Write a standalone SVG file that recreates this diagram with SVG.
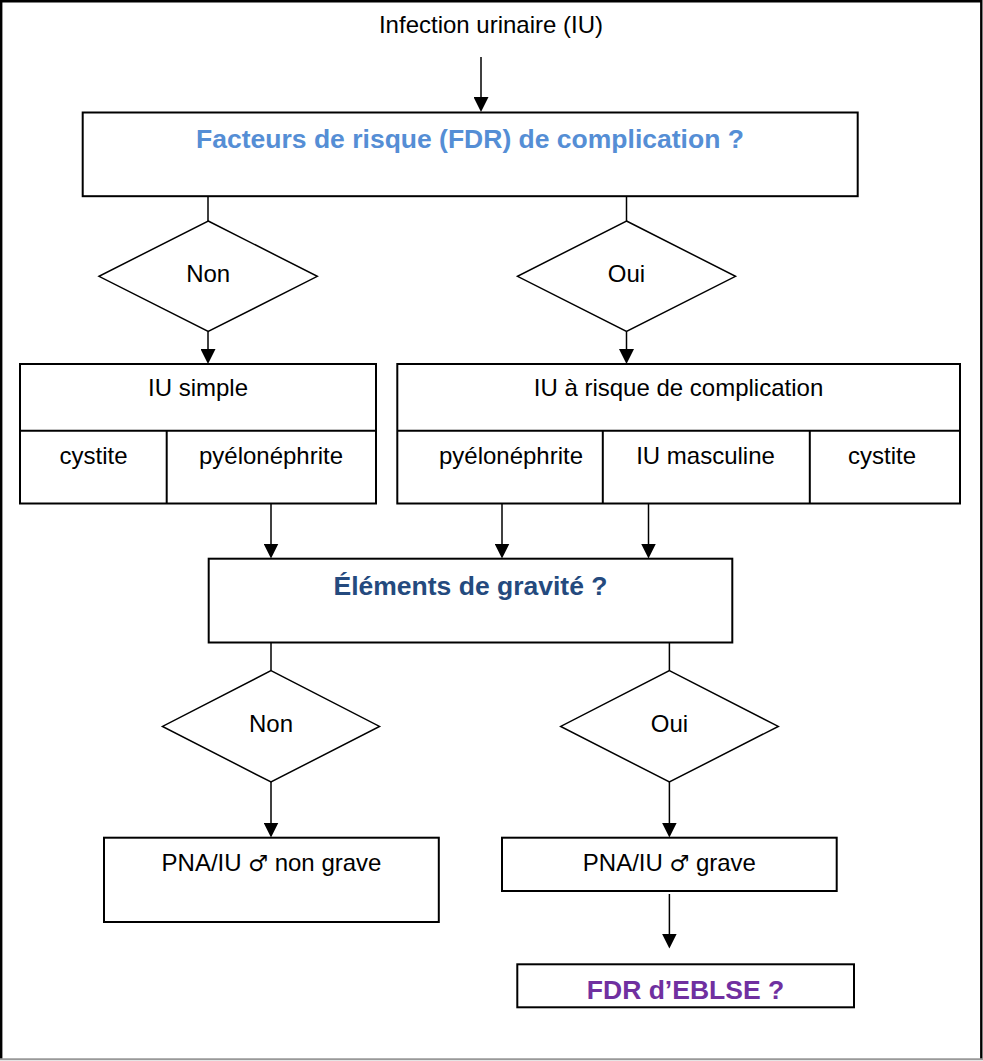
<svg xmlns="http://www.w3.org/2000/svg" width="983" height="1061" viewBox="0 0 983 1061">
<style>
.box{fill:#fff;stroke:#000;stroke-width:2}
.dia{fill:#fff;stroke:#000;stroke-width:1.5}
.ln{fill:none;stroke:#000;stroke-width:1.5}
.t{font-family:"Liberation Sans",Arial,sans-serif;font-size:24px;fill:#000;text-anchor:middle}
.b{font-family:"Liberation Sans",Arial,sans-serif;font-size:26.5px;font-weight:bold;text-anchor:middle}
.sym{font-family:"DejaVu Sans",sans-serif;font-size:22px}
</style>
<defs>
<marker id="arr" viewBox="0 0 15 15" refX="12" refY="7.5" markerWidth="15" markerHeight="15" markerUnits="userSpaceOnUse" orient="auto">
<path d="M0,0 L15,7.5 L0,15 z" fill="#000"/>
</marker>
</defs>
<rect width="983" height="1061" fill="#fff"/>
<g id="frame">
<path d="M1.2,1059 L1.2,1.2 L981.3,1.2 L981.3,1059" fill="none" stroke="#000" stroke-width="2.4"/>
<line x1="0" y1="1059.3" x2="983" y2="1059.3" stroke="#999" stroke-width="2"/>
</g>
<g id="connectors">
<line class="ln" x1="481" y1="57" x2="481" y2="109" marker-end="url(#arr)"/>
<line class="ln" x1="208" y1="196" x2="208" y2="221"/>
<line class="ln" x1="626.5" y1="196" x2="626.5" y2="221"/>
<line class="ln" x1="208" y1="331.5" x2="208" y2="361" marker-end="url(#arr)"/>
<line class="ln" x1="626.5" y1="331.5" x2="626.5" y2="361" marker-end="url(#arr)"/>
<line class="ln" x1="271" y1="503.5" x2="271" y2="555.5" marker-end="url(#arr)"/>
<line class="ln" x1="502" y1="503.5" x2="502" y2="555.5" marker-end="url(#arr)"/>
<line class="ln" x1="648.5" y1="503.5" x2="648.5" y2="555.5" marker-end="url(#arr)"/>
<line class="ln" x1="271" y1="642.5" x2="271" y2="670.7"/>
<line class="ln" x1="669.4" y1="642.5" x2="669.4" y2="670.7"/>
<line class="ln" x1="271" y1="782" x2="271" y2="834.5" marker-end="url(#arr)"/>
<line class="ln" x1="669.4" y1="782" x2="669.4" y2="834.5" marker-end="url(#arr)"/>
<line class="ln" x1="669.4" y1="894" x2="669.4" y2="945.5" marker-end="url(#arr)"/>
</g>
<g id="title">
<text class="t" x="491" y="33">Infection urinaire (IU)</text>
</g>
<g id="fdr-complication">
<rect class="box" x="82.7" y="112.5" width="775" height="83.7"/>
<text class="b" x="470" y="147.5" fill="#558ED5">Facteurs de risque (FDR) de complication ?</text>
</g>
<g id="dia-non-1">
<polygon class="dia" points="208.2,221 317.3,276.3 208.2,331.5 99,276.3"/>
<text class="t" x="208.2" y="282">Non</text>
</g>
<g id="dia-oui-1">
<polygon class="dia" points="626.5,221 735.5,276.3 626.5,331.5 517.5,276.3"/>
<text class="t" x="626.5" y="282">Oui</text>
</g>
<g id="iu-simple">
<rect class="box" x="20" y="364" width="356" height="139.5"/>
<line class="box" x1="20" y1="430.7" x2="376" y2="430.7"/>
<line class="box" x1="166.7" y1="430.7" x2="166.7" y2="503.5"/>
<text class="t" x="198" y="395.5">IU simple</text>
<text class="t" x="93.5" y="464">cystite</text>
<text class="t" x="271" y="464">pyélonéphrite</text>
</g>
<g id="iu-risque">
<rect class="box" x="397.3" y="364" width="562.7" height="139.5"/>
<line class="box" x1="397.3" y1="430.7" x2="960" y2="430.7"/>
<line class="box" x1="602.8" y1="430.7" x2="602.8" y2="503.5"/>
<line class="box" x1="809.8" y1="430.7" x2="809.8" y2="503.5"/>
<text class="t" x="678.5" y="395.5">IU à risque de complication</text>
<text class="t" x="511" y="464">pyélonéphrite</text>
<text class="t" x="705.5" y="464">IU masculine</text>
<text class="t" x="882" y="464">cystite</text>
</g>
<g id="elements-gravite">
<rect class="box" x="208.7" y="558.7" width="523.6" height="83.8"/>
<text class="b" x="470.5" y="595" fill="#244A7E">Éléments de gravité ?</text>
</g>
<g id="dia-non-2">
<polygon class="dia" points="271,670.7 379.5,726.4 271,782 162.5,726.4"/>
<text class="t" x="271" y="732">Non</text>
</g>
<g id="dia-oui-2">
<polygon class="dia" points="669.4,670.7 778.3,726.4 669.4,782 560.7,726.4"/>
<text class="t" x="669.4" y="732">Oui</text>
</g>
<g id="pna-non-grave">
<rect class="box" x="104" y="837.7" width="334.8" height="84.3"/>
<text class="t" x="271.5" y="870.7">PNA/IU <tspan class="sym">♂</tspan> non grave</text>
</g>
<g id="pna-grave">
<rect class="box" x="502" y="837.7" width="334.7" height="53.3"/>
<text class="t" x="669.4" y="870.7">PNA/IU <tspan class="sym">♂</tspan> grave</text>
</g>
<g id="fdr-eblse">
<rect class="box" x="517.3" y="964.3" width="336.7" height="43"/>
<text class="b" x="685.5" y="999.3" fill="#7030A0">FDR d’EBLSE ?</text>
</g>
</svg>
